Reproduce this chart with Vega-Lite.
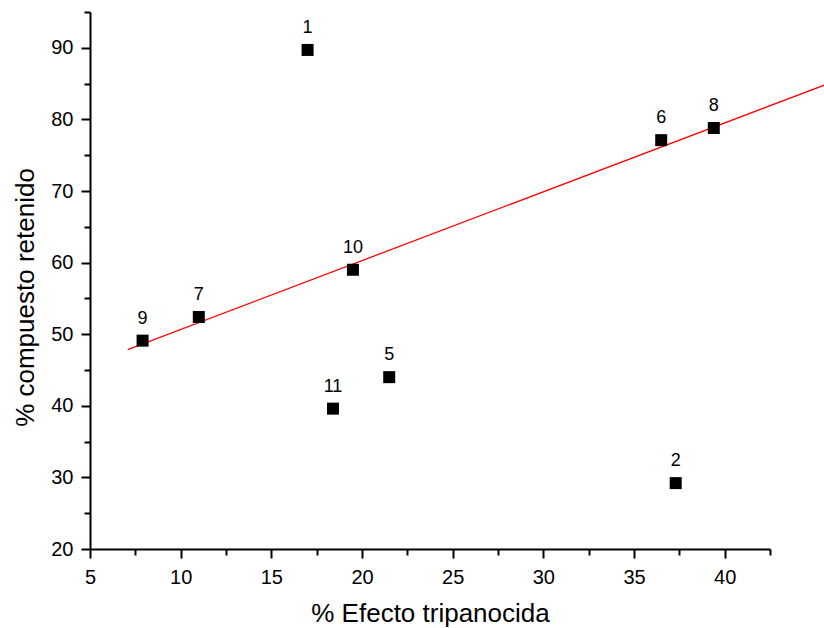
{
  "$schema": "https://vega.github.io/schema/vega-lite/v6.json",
  "width": 680,
  "height": 537,
  "autosize": "none",
  "padding": {"left": 90, "top": 12, "right": 54, "bottom": 79},
  "background": "white",
  "config": {
    "view": {"stroke": null},
    "font": "Liberation Sans",
    "axis": {
      "grid": false,
      "domainColor": "black",
      "domainWidth": 2,
      "tickColor": "black",
      "tickWidth": 2,
      "labelColor": "black",
      "titleColor": "black",
      "labelFont": "Liberation Sans",
      "titleFont": "Liberation Sans",
      "titleFontWeight": "normal"
    }
  },
  "datasets": {
    "pts": [
      {"id": "1", "efecto": 17.0, "retenido": 89.7},
      {"id": "2", "efecto": 37.3, "retenido": 29.2},
      {"id": "5", "efecto": 21.5, "retenido": 44.0},
      {"id": "6", "efecto": 36.5, "retenido": 77.1},
      {"id": "7", "efecto": 11.0, "retenido": 52.4},
      {"id": "8", "efecto": 39.4, "retenido": 78.8},
      {"id": "9", "efecto": 7.9, "retenido": 49.1},
      {"id": "10", "efecto": 19.5, "retenido": 59.0},
      {"id": "11", "efecto": 18.4, "retenido": 39.6}
    ],
    "fit": [
      {"efecto": 7.08, "retenido": 47.85},
      {"efecto": 45.5, "retenido": 84.8}
    ]
  },
  "resolve": {"axis": {"x": "independent", "y": "independent"}},
  "layer": [
    {
      "data": {"name": "fit"},
      "mark": {"type": "line", "color": "#ff0000", "strokeWidth": 1.3, "clip": false},
      "encoding": {
        "x": {
          "field": "efecto", "type": "quantitative",
          "scale": {"domain": [5, 42.5], "nice": false, "zero": false},
          "axis": {"orient": "bottom", "values": [7.5, 12.5, 17.5, 22.5, 27.5, 32.5, 37.5, 42.5], "labels": false, "domain": false, "tickSize": 6, "title": null}
        },
        "y": {
          "field": "retenido", "type": "quantitative",
          "scale": {"domain": [20, 95], "nice": false, "zero": false},
          "axis": {"orient": "left", "values": [25, 35, 45, 55, 65, 75, 85, 95], "labels": false, "domain": false, "tickSize": 6, "title": null}
        }
      }
    },
    {
      "data": {"name": "pts"},
      "mark": {"type": "point", "shape": "square", "filled": true, "color": "black", "size": 144, "opacity": 1},
      "encoding": {
        "x": {
          "field": "efecto", "type": "quantitative",
          "scale": {"domain": [5, 42.5], "nice": false, "zero": false},
          "axis": {"orient": "bottom", "values": [5, 10, 15, 20, 25, 30, 35, 40], "tickSize": 9, "labelFontSize": 20, "labelPadding": 9, "title": "% Efecto tripanocida", "titleFontSize": 26, "titlePadding": 13, "labelFlush": false}
        },
        "y": {
          "field": "retenido", "type": "quantitative",
          "scale": {"domain": [20, 95], "nice": false, "zero": false},
          "axis": {"orient": "left", "values": [20, 30, 40, 50, 60, 70, 80, 90], "tickSize": 9, "labelFontSize": 20, "labelPadding": 8, "title": "% compuesto retenido", "titleFontSize": 26, "titlePadding": 12, "titleY": 285, "labelFlush": false}
        }
      }
    },
    {
      "data": {"name": "pts"},
      "mark": {"type": "text", "fontSize": 18, "color": "black", "dy": -22, "font": "Liberation Sans"},
      "encoding": {
        "x": {"field": "efecto", "type": "quantitative", "scale": {"domain": [5, 42.5], "nice": false, "zero": false}, "axis": null},
        "y": {"field": "retenido", "type": "quantitative", "scale": {"domain": [20, 95], "nice": false, "zero": false}, "axis": null},
        "text": {"field": "id"}
      }
    }
  ]
}
